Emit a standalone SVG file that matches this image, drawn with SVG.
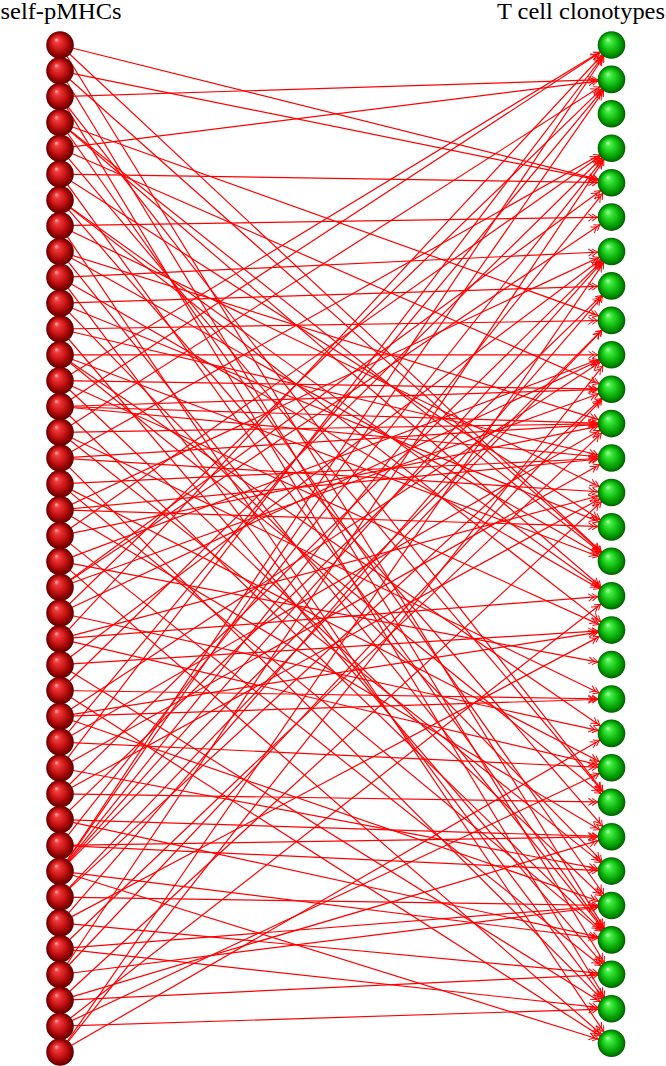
<svg xmlns="http://www.w3.org/2000/svg" xmlns:xlink="http://www.w3.org/1999/xlink" width="666" height="1066" viewBox="0 0 666 1066">
<style>
.lbl{font-family:"Liberation Serif","DejaVu Serif",serif;font-size:23px;fill:#000}
.e path{fill:none;stroke:#ff0000;stroke-width:1.2;marker-end:url(#ah)}
</style>
<defs>
<radialGradient id="gr" cx="0.5" cy="0.5" r="0.5" fx="0.36" fy="0.3">
<stop offset="0" stop-color="#ffb4b4"/><stop offset="0.18" stop-color="#f03c3c"/><stop offset="0.55" stop-color="#c81414"/><stop offset="0.85" stop-color="#880000"/><stop offset="1" stop-color="#5c0000"/>
</radialGradient>
<radialGradient id="gg" cx="0.5" cy="0.5" r="0.5" fx="0.36" fy="0.3">
<stop offset="0" stop-color="#c8ffc8"/><stop offset="0.18" stop-color="#46f046"/><stop offset="0.55" stop-color="#14c014"/><stop offset="0.85" stop-color="#008a00"/><stop offset="1" stop-color="#005c00"/>
</radialGradient>
<circle id="rb" r="13.8" fill="url(#gr)"/>
<circle id="gb" r="13.8" fill="url(#gg)"/>
<marker id="ah" markerUnits="userSpaceOnUse" orient="auto" refX="13.8" refY="0" markerWidth="1" markerHeight="1" overflow="visible">
<path d="M-5.5,-3.6Q-1.8,-0.9 0,0Q-1.8,0.9 -5.5,3.6M-9.3,-3.6Q-5.6,-0.9 -3.8,0Q-5.6,0.9 -9.3,3.6" fill="none" stroke="#ff0000" stroke-width="1"/>
</marker>
</defs>
<rect width="666" height="1066" fill="#fff"/>
<text class="lbl" x="0.5" y="18.5" textLength="121" lengthAdjust="spacingAndGlyphs">self-pMHCs</text>
<text class="lbl" x="497" y="18.5" textLength="168" lengthAdjust="spacingAndGlyphs">T cell clonotypes</text>
<g id="connectors" class="e">
<path d="M60 45L611.5 182.7"/><path d="M60 45L611.5 561.3"/><path d="M60 45L611.5 939.9"/>
<path d="M60 70.8L611.5 182.7"/><path d="M60 70.8L611.5 561.3"/><path d="M60 70.8L611.5 974.3"/>
<path d="M60 96.6L611.5 79.4"/><path d="M60 96.6L611.5 802.2"/><path d="M60 96.6L611.5 1008.8"/>
<path d="M60 122.5L611.5 561.3"/><path d="M60 122.5L611.5 595.7"/><path d="M60 122.5L611.5 905.5"/><path d="M60 122.5L611.5 320.4"/>
<path d="M60 148.3L611.5 79.4"/><path d="M60 148.3L611.5 389.2"/><path d="M60 148.3L611.5 802.2"/>
<path d="M60 174.1L611.5 182.7"/><path d="M60 174.1L611.5 526.9"/><path d="M60 174.1L611.5 939.9"/>
<path d="M60 199.9L611.5 595.7"/><path d="M60 199.9L611.5 630.1"/><path d="M60 199.9L611.5 836.7"/>
<path d="M60 225.7L611.5 217.1"/><path d="M60 225.7L611.5 492.5"/><path d="M60 225.7L611.5 1043.2"/>
<path d="M60 251.6L611.5 423.6"/><path d="M60 251.6L611.5 561.3"/><path d="M60 251.6L611.5 939.9"/>
<path d="M60 277.4L611.5 251.5"/><path d="M60 277.4L611.5 595.7"/><path d="M60 277.4L611.5 1008.8"/>
<path d="M60 303.2L611.5 285.9"/><path d="M60 303.2L611.5 526.9"/><path d="M60 303.2L611.5 871.1"/>
<path d="M60 329L611.5 320.4"/><path d="M60 329L611.5 458"/><path d="M60 329L611.5 974.3"/>
<path d="M60 354.8L611.5 354.8"/><path d="M60 354.8L611.5 561.3"/><path d="M60 354.8L611.5 802.2"/><path d="M60 354.8L611.5 733.4"/>
<path d="M60 380.7L611.5 45"/><path d="M60 380.7L611.5 630.1"/><path d="M60 380.7L611.5 905.5"/><path d="M60 380.7L611.5 389.2"/>
<path d="M60 406.5L611.5 45"/><path d="M60 406.5L611.5 389.2"/><path d="M60 406.5L611.5 423.6"/><path d="M60 406.5L611.5 458"/><path d="M60 406.5L611.5 939.9"/>
<path d="M60 432.3L611.5 79.4"/><path d="M60 432.3L611.5 423.6"/><path d="M60 432.3L611.5 699"/><path d="M60 432.3L611.5 871.1"/>
<path d="M60 458.1L611.5 148.3"/><path d="M60 458.1L611.5 492.5"/><path d="M60 458.1L611.5 1008.8"/><path d="M60 458.1L611.5 423.6"/>
<path d="M60 483.9L611.5 458"/><path d="M60 483.9L611.5 767.8"/><path d="M60 483.9L611.5 939.9"/>
<path d="M60 509.8L611.5 251.5"/><path d="M60 509.8L611.5 526.9"/><path d="M60 509.8L611.5 836.7"/><path d="M60 509.8L611.5 458"/>
<path d="M60 535.6L611.5 148.3"/><path d="M60 535.6L611.5 423.6"/><path d="M60 535.6L611.5 974.3"/>
<path d="M60 561.4L611.5 354.8"/><path d="M60 561.4L611.5 664.6"/><path d="M60 561.4L611.5 1043.2"/>
<path d="M60 587.2L611.5 182.7"/><path d="M60 587.2L611.5 389.2"/><path d="M60 587.2L611.5 217.1"/>
<path d="M60 613L611.5 79.4"/><path d="M60 613L611.5 354.8"/><path d="M60 613L611.5 733.4"/>
<path d="M60 638.9L611.5 45"/><path d="M60 638.9L611.5 492.5"/><path d="M60 638.9L611.5 767.8"/><path d="M60 638.9L611.5 595.7"/>
<path d="M60 664.7L611.5 251.5"/><path d="M60 664.7L611.5 630.1"/><path d="M60 664.7L611.5 1008.8"/>
<path d="M60 690.5L611.5 148.3"/><path d="M60 690.5L611.5 699"/><path d="M60 690.5L611.5 1043.2"/>
<path d="M60 716.3L611.5 354.8"/><path d="M60 716.3L611.5 630.1"/><path d="M60 716.3L611.5 905.5"/><path d="M60 716.3L611.5 699"/>
<path d="M60 742.1L611.5 79.4"/><path d="M60 742.1L611.5 423.6"/><path d="M60 742.1L611.5 767.8"/>
<path d="M60 768L611.5 45"/><path d="M60 768L611.5 458"/><path d="M60 768L611.5 871.1"/>
<path d="M60 793.8L611.5 251.5"/><path d="M60 793.8L611.5 492.5"/><path d="M60 793.8L611.5 802.2"/>
<path d="M60 819.6L611.5 285.9"/><path d="M60 819.6L611.5 836.7"/><path d="M60 819.6L611.5 939.9"/>
<path d="M60 845.4L611.5 148.3"/><path d="M60 845.4L611.5 836.7"/><path d="M60 845.4L611.5 871.1"/>
<path d="M60 871.2L611.5 45"/><path d="M60 871.2L611.5 79.4"/><path d="M60 871.2L611.5 182.7"/><path d="M60 871.2L611.5 251.5"/><path d="M60 871.2L611.5 320.4"/><path d="M60 871.2L611.5 939.9"/><path d="M60 871.2L611.5 1043.2"/>
<path d="M60 897.1L611.5 389.2"/><path d="M60 897.1L611.5 320.4"/><path d="M60 897.1L611.5 905.5"/>
<path d="M60 922.9L611.5 285.9"/><path d="M60 922.9L611.5 630.1"/><path d="M60 922.9L611.5 974.3"/>
<path d="M60 948.7L611.5 423.6"/><path d="M60 948.7L611.5 905.5"/><path d="M60 948.7L611.5 1008.8"/>
<path d="M60 974.5L611.5 148.3"/><path d="M60 974.5L611.5 389.2"/><path d="M60 974.5L611.5 905.5"/>
<path d="M60 1000.3L611.5 492.5"/><path d="M60 1000.3L611.5 836.7"/><path d="M60 1000.3L611.5 974.3"/>
<path d="M60 1026.2L611.5 595.7"/><path d="M60 1026.2L611.5 767.8"/><path d="M60 1026.2L611.5 1008.8"/>
<path d="M60 1052L611.5 251.5"/><path d="M60 1052L611.5 354.8"/><path d="M60 1052L611.5 733.4"/>
</g>
<g id="pmhc0"><use href="#rb" x="60" y="45"/></g>
<g id="pmhc1"><use href="#rb" x="60" y="70.8"/></g>
<g id="pmhc2"><use href="#rb" x="60" y="96.6"/></g>
<g id="pmhc3"><use href="#rb" x="60" y="122.5"/></g>
<g id="pmhc4"><use href="#rb" x="60" y="148.3"/></g>
<g id="pmhc5"><use href="#rb" x="60" y="174.1"/></g>
<g id="pmhc6"><use href="#rb" x="60" y="199.9"/></g>
<g id="pmhc7"><use href="#rb" x="60" y="225.7"/></g>
<g id="pmhc8"><use href="#rb" x="60" y="251.6"/></g>
<g id="pmhc9"><use href="#rb" x="60" y="277.4"/></g>
<g id="pmhc10"><use href="#rb" x="60" y="303.2"/></g>
<g id="pmhc11"><use href="#rb" x="60" y="329"/></g>
<g id="pmhc12"><use href="#rb" x="60" y="354.8"/></g>
<g id="pmhc13"><use href="#rb" x="60" y="380.7"/></g>
<g id="pmhc14"><use href="#rb" x="60" y="406.5"/></g>
<g id="pmhc15"><use href="#rb" x="60" y="432.3"/></g>
<g id="pmhc16"><use href="#rb" x="60" y="458.1"/></g>
<g id="pmhc17"><use href="#rb" x="60" y="483.9"/></g>
<g id="pmhc18"><use href="#rb" x="60" y="509.8"/></g>
<g id="pmhc19"><use href="#rb" x="60" y="535.6"/></g>
<g id="pmhc20"><use href="#rb" x="60" y="561.4"/></g>
<g id="pmhc21"><use href="#rb" x="60" y="587.2"/></g>
<g id="pmhc22"><use href="#rb" x="60" y="613"/></g>
<g id="pmhc23"><use href="#rb" x="60" y="638.9"/></g>
<g id="pmhc24"><use href="#rb" x="60" y="664.7"/></g>
<g id="pmhc25"><use href="#rb" x="60" y="690.5"/></g>
<g id="pmhc26"><use href="#rb" x="60" y="716.3"/></g>
<g id="pmhc27"><use href="#rb" x="60" y="742.1"/></g>
<g id="pmhc28"><use href="#rb" x="60" y="768"/></g>
<g id="pmhc29"><use href="#rb" x="60" y="793.8"/></g>
<g id="pmhc30"><use href="#rb" x="60" y="819.6"/></g>
<g id="pmhc31"><use href="#rb" x="60" y="845.4"/></g>
<g id="pmhc32"><use href="#rb" x="60" y="871.2"/></g>
<g id="pmhc33"><use href="#rb" x="60" y="897.1"/></g>
<g id="pmhc34"><use href="#rb" x="60" y="922.9"/></g>
<g id="pmhc35"><use href="#rb" x="60" y="948.7"/></g>
<g id="pmhc36"><use href="#rb" x="60" y="974.5"/></g>
<g id="pmhc37"><use href="#rb" x="60" y="1000.3"/></g>
<g id="pmhc38"><use href="#rb" x="60" y="1026.2"/></g>
<g id="pmhc39"><use href="#rb" x="60" y="1052"/></g>
<g id="tcell0"><use href="#gb" x="611.5" y="45"/></g>
<g id="tcell1"><use href="#gb" x="611.5" y="79.4"/></g>
<g id="tcell2"><use href="#gb" x="611.5" y="113.8"/></g>
<g id="tcell3"><use href="#gb" x="611.5" y="148.3"/></g>
<g id="tcell4"><use href="#gb" x="611.5" y="182.7"/></g>
<g id="tcell5"><use href="#gb" x="611.5" y="217.1"/></g>
<g id="tcell6"><use href="#gb" x="611.5" y="251.5"/></g>
<g id="tcell7"><use href="#gb" x="611.5" y="285.9"/></g>
<g id="tcell8"><use href="#gb" x="611.5" y="320.4"/></g>
<g id="tcell9"><use href="#gb" x="611.5" y="354.8"/></g>
<g id="tcell10"><use href="#gb" x="611.5" y="389.2"/></g>
<g id="tcell11"><use href="#gb" x="611.5" y="423.6"/></g>
<g id="tcell12"><use href="#gb" x="611.5" y="458"/></g>
<g id="tcell13"><use href="#gb" x="611.5" y="492.5"/></g>
<g id="tcell14"><use href="#gb" x="611.5" y="526.9"/></g>
<g id="tcell15"><use href="#gb" x="611.5" y="561.3"/></g>
<g id="tcell16"><use href="#gb" x="611.5" y="595.7"/></g>
<g id="tcell17"><use href="#gb" x="611.5" y="630.1"/></g>
<g id="tcell18"><use href="#gb" x="611.5" y="664.6"/></g>
<g id="tcell19"><use href="#gb" x="611.5" y="699"/></g>
<g id="tcell20"><use href="#gb" x="611.5" y="733.4"/></g>
<g id="tcell21"><use href="#gb" x="611.5" y="767.8"/></g>
<g id="tcell22"><use href="#gb" x="611.5" y="802.2"/></g>
<g id="tcell23"><use href="#gb" x="611.5" y="836.7"/></g>
<g id="tcell24"><use href="#gb" x="611.5" y="871.1"/></g>
<g id="tcell25"><use href="#gb" x="611.5" y="905.5"/></g>
<g id="tcell26"><use href="#gb" x="611.5" y="939.9"/></g>
<g id="tcell27"><use href="#gb" x="611.5" y="974.3"/></g>
<g id="tcell28"><use href="#gb" x="611.5" y="1008.8"/></g>
<g id="tcell29"><use href="#gb" x="611.5" y="1043.2"/></g>
</svg>
